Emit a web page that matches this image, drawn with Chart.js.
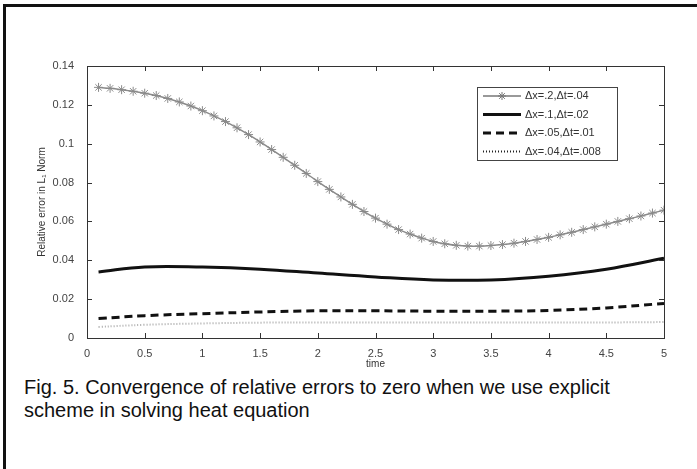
<!DOCTYPE html>
<html>
<head>
<meta charset="utf-8">
<script src="https://cdn.jsdelivr.net/npm/chart.js@4/dist/chart.umd.min.js"></script>
<style>
  body { margin: 0; background: #fff; }
  #page { position: relative; width: 697px; height: 469px; overflow: hidden; }
  #frame { position: absolute; left: 3px; top: 4px; width: 760px; height: 520px;
           border-left: 3px solid #111; border-top: 3px solid #111; }
  #wrap { position: absolute; left: 0; top: 0; width: 697px; height: 370px; }
  #caption { position: absolute; left: 24px; top: 376px; width: 650px;
             font-family: "Liberation Sans", Arial, sans-serif; font-size: 20px;
             line-height: 23px; color: #111; }
</style>
</head>
<body>
<div id="page">
  <div id="frame"></div>
  <div id="wrap"><canvas id="errChart" width="697" height="370"></canvas></div>
  <div id="caption">Fig. 5. Convergence of relative errors to zero when we use explicit scheme in solving heat equation</div>
</div>
<script>
let labels = ["\u0394x=.2,\u0394t=.04", "\u0394x=.1,\u0394t=.02", "\u0394x=.05,\u0394t=.01", "\u0394x=.04,\u0394t=.008"];

// fine time grid for the starred curve
let timeFine = [0.1, 0.2, 0.3, 0.4, 0.5, 0.6, 0.7, 0.8, 0.9, 1.0,
  1.1, 1.2, 1.3, 1.4, 1.5, 1.6, 1.7, 1.8, 1.9, 2.0,
  2.1, 2.2, 2.3, 2.4, 2.5, 2.6, 2.7, 2.8, 2.9, 3.0,
  3.1, 3.2, 3.3, 3.4, 3.5, 3.6, 3.7, 3.8, 3.9, 4.0,
  4.1, 4.2, 4.3, 4.4, 4.5, 4.6, 4.7, 4.8, 4.9, 5.0];
let err02 = [0.1290, 0.1285, 0.1278, 0.1270, 0.1260, 0.1248, 0.1233, 0.1215, 0.1194, 0.1170,
  0.1143, 0.1114, 0.1082, 0.1047, 0.1009, 0.0970, 0.0930, 0.0889, 0.0847, 0.0805,
  0.0765, 0.0726, 0.0688, 0.0651, 0.0617, 0.0586, 0.0558, 0.0535, 0.0514, 0.0497,
  0.0485, 0.0477, 0.0473, 0.0473, 0.0476, 0.0481, 0.0488, 0.0497, 0.0507, 0.0518,
  0.0531, 0.0544, 0.0558, 0.0572, 0.0586, 0.0600, 0.0614, 0.0628, 0.0643, 0.0658];

// coarse time grid for the other curves
let timeCoarse = [0.1, 0.5, 1, 1.5, 2, 2.5, 3, 3.5, 4, 4.5, 5];
let err01 = [0.0340, 0.0366, 0.0365, 0.0354, 0.0334, 0.0314, 0.0299, 0.0299, 0.0318, 0.0354, 0.0410];
let err005 = [0.0100, 0.0115, 0.0125, 0.0134, 0.0140, 0.0140, 0.0138, 0.0138, 0.0142, 0.0155, 0.0178];
let err004 = [0.0057, 0.0068, 0.0075, 0.0079, 0.0080, 0.0080, 0.0080, 0.0080, 0.0080, 0.0080, 0.0082];

let xTickLabels = ["0", "0.5", "1", "1.5", "2", "2.5", "3", "3.5", "4", "4.5", "5"];
let yTickLabels = ["0", "0.02", "0.04", "0.06", "0.08", "0.1", "0.12", "0.14"];

const pts = (xs, ys) => xs.map((x, i) => ({ x: x, y: ys[i] }));

// box round the plot + inward tick marks, matlab style
const boxTicks = {
  id: "boxTicks",
  afterDatasetsDraw(chart) {
    const { ctx, chartArea: a, scales } = chart;
    ctx.save();
    ctx.strokeStyle = "#333";
    ctx.lineWidth = 1;
    ctx.strokeRect(a.left + 0.5, a.top + 0.5, a.right - a.left, a.bottom - a.top);
    ctx.beginPath();
    scales.x.ticks.forEach((t) => {
      const px = Math.round(scales.x.getPixelForValue(t.value)) + 0.5;
      ctx.moveTo(px, a.bottom); ctx.lineTo(px, a.bottom - 5);
      ctx.moveTo(px, a.top); ctx.lineTo(px, a.top + 5);
    });
    scales.y.ticks.forEach((t) => {
      const py = Math.round(scales.y.getPixelForValue(t.value)) + 0.5;
      ctx.moveTo(a.left, py); ctx.lineTo(a.left + 5, py);
      ctx.moveTo(a.right, py); ctx.lineTo(a.right - 5, py);
    });
    ctx.stroke();
    ctx.restore();
  },
};

// legend box inside the plot, top right
const boxLegend = {
  id: "boxLegend",
  afterDraw(chart) {
    const { ctx, chartArea: a } = chart;
    const x0 = a.left + 390, y0 = a.top + 21, w = 140, h = 73;
    ctx.save();
    ctx.fillStyle = "#fff";
    ctx.fillRect(x0, y0, w, h);
    ctx.strokeStyle = "#444";
    ctx.lineWidth = 1;
    ctx.strokeRect(x0 + 0.5, y0 + 0.5, w, h);
    ctx.font = "11px 'Liberation Sans', Arial, sans-serif";
    ctx.textBaseline = "middle";
    chart.data.datasets.forEach((ds, i) => {
      const y = y0 + 9 + i * 18.5;
      ctx.beginPath();
      ctx.strokeStyle = ds.legendColor;
      ctx.lineWidth = ds.borderWidth;
      ctx.setLineDash(ds.borderDash || []);
      ctx.moveTo(x0 + 6, y);
      ctx.lineTo(x0 + 44, y);
      ctx.stroke();
      ctx.setLineDash([]);
      if (ds.pointRadius > 0) {
        ctx.lineWidth = 1;
        Chart.helpers.drawPoint(ctx, { pointStyle: "star", radius: 4, borderWidth: 1 }, x0 + 25, y);
      }
      ctx.fillStyle = "#333";
      ctx.fillText(ds.label, x0 + 48, y);
    });
    ctx.restore();
  },
};

new Chart(document.querySelector("#errChart"), {
  type: "line",
  data: {
    datasets: [
      {
        label: labels[0],
        data: pts(timeFine, err02),
        borderColor: "#8a8a8a",
        legendColor: "#777",
        borderWidth: 1.5,
        pointStyle: "star",
        pointRadius: 4.5,
        pointBorderColor: "#8a8a8a",
        pointBorderWidth: 1,
        tension: 0.3,
      },
      {
        label: labels[1],
        data: pts(timeCoarse, err01),
        borderColor: "#111",
        legendColor: "#111",
        borderWidth: 3,
        pointRadius: 0,
        tension: 0.4,
      },
      {
        label: labels[2],
        data: pts(timeCoarse, err005),
        borderColor: "#111",
        legendColor: "#111",
        borderWidth: 3,
        borderDash: [8, 5],
        pointRadius: 0,
        tension: 0.4,
      },
      {
        label: labels[3],
        data: pts(timeCoarse, err004),
        borderColor: "#aaa",
        legendColor: "#222",
        borderWidth: 2,
        borderDash: [1, 2],
        pointRadius: 0,
        tension: 0.4,
      },
    ],
  },
  options: {
    responsive: false,
    animation: false,
    layout: { padding: { left: 36, right: 33, top: 66, bottom: 0 } },
    scales: {
      x: {
        type: "linear",
        min: 0,
        max: 5,
        afterFit: (scale) => { scale.height = 32; },
        grid: { display: false },
        border: { display: false },
        ticks: {
          stepSize: 0.5,
          padding: 1,
          color: "#444",
          font: { size: 11, family: "Liberation Sans" },
          callback: (value, index) => xTickLabels[index],
        },
        title: {
          display: true,
          text: "time",
          color: "#333",
          padding: 0,
          font: { size: 10, family: "Liberation Sans" },
        },
      },
      y: {
        min: 0,
        max: 0.14,
        afterFit: (scale) => { scale.width = 51; },
        grid: { display: false },
        border: { display: false },
        ticks: {
          stepSize: 0.02,
          padding: 5,
          color: "#444",
          font: { size: 11, family: "Liberation Sans" },
          callback: (value, index) => yTickLabels[index],
        },
        title: {
          display: true,
          text: "Relative error in L\u2081 Norm",
          color: "#333",
          padding: 0,
          font: { size: 10, family: "Liberation Sans" },
        },
      },
    },
    plugins: {
      legend: { display: false },
      tooltip: { enabled: false },
    },
  },
  plugins: [boxTicks, boxLegend],
});
</script>
</body>
</html>
